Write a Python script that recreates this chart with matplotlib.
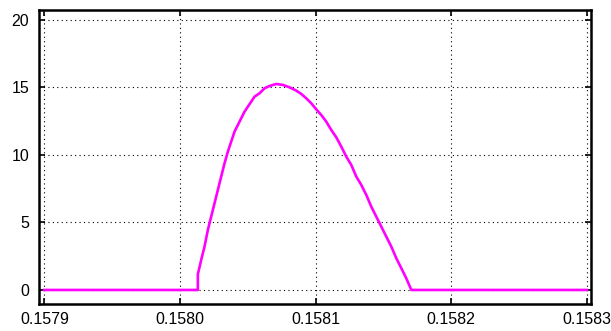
import matplotlib
matplotlib.use('Agg')
import matplotlib.pyplot as plt

plt.rcParams['font.family'] = ['Liberation Sans', 'DejaVu Sans']

# curve data
t = [0.1579, 0.15801316, 0.15801316, 0.15801562, 0.15801808, 0.15802054, 0.15802300,
     0.15802546, 0.15802792, 0.15803038, 0.15803284, 0.15803530, 0.15803776,
     0.15804022, 0.15804268, 0.15804514, 0.15804760, 0.15805006, 0.15805252,
     0.15805498, 0.15805867, 0.15806236, 0.15806605, 0.15807097, 0.15807589,
     0.15808081, 0.15808573, 0.15808942, 0.15809311, 0.15809680, 0.15810049,
     0.15810418, 0.15810787, 0.15811156, 0.15811525, 0.15811894, 0.15812263,
     0.15812632, 0.15813001, 0.15813370, 0.15813739, 0.15814108, 0.15814477,
     0.15814846, 0.15815215, 0.15815584, 0.15815953, 0.15816322, 0.15816691,
     0.15817060, 0.1583]
v = [0, 0, 1.16, 2.22, 3.21, 4.44, 5.43,
     6.42, 7.41, 8.40, 9.38, 10.25, 10.99,
     11.73, 12.22, 12.72, 13.21, 13.58, 13.95,
     14.32, 14.57, 14.94, 15.11, 15.26, 15.19,
     15.01, 14.77, 14.52, 14.20, 13.83, 13.38,
     12.96, 12.47, 11.85, 11.31, 10.62, 9.88,
     9.26, 8.40, 7.78, 7.04, 6.17, 5.43,
     4.69, 3.95, 3.21, 2.35, 1.61, 0.86,
     0, 0]

xticks = [0.1579, 0.1580, 0.1581, 0.1582, 0.1583]
xlabels = ['0.1579', '0.1580', '0.1581', '0.1582', '0.1583']
yticks = [0, 5, 10, 15, 20]

fig = plt.figure(figsize=(6.11, 3.31), dpi=100)
ax = fig.add_axes([0.0638, 0.0816, 0.9032, 0.8882])

ax.plot(t, v, color='#ff00ff', linewidth=1.9)

ax.set_xlim(0.157896, 0.158303)
ax.set_ylim(-1.04, 20.74)
ax.set_xticks(xticks)
ax.set_xticklabels(xlabels)
ax.set_yticks(yticks)

ax.grid(True, color='black', linestyle=(0, (1, 3)), linewidth=0.8)
ax.tick_params(direction='in', top=True, right=True, length=4, width=1.2,
               labelsize=11.5, colors='black')
ax.tick_params(axis='x', pad=6)
ax.tick_params(axis='y', pad=7)
for s in ax.spines.values():
    s.set_linewidth(1.8)

fig.savefig('out.png', dpi=100)
